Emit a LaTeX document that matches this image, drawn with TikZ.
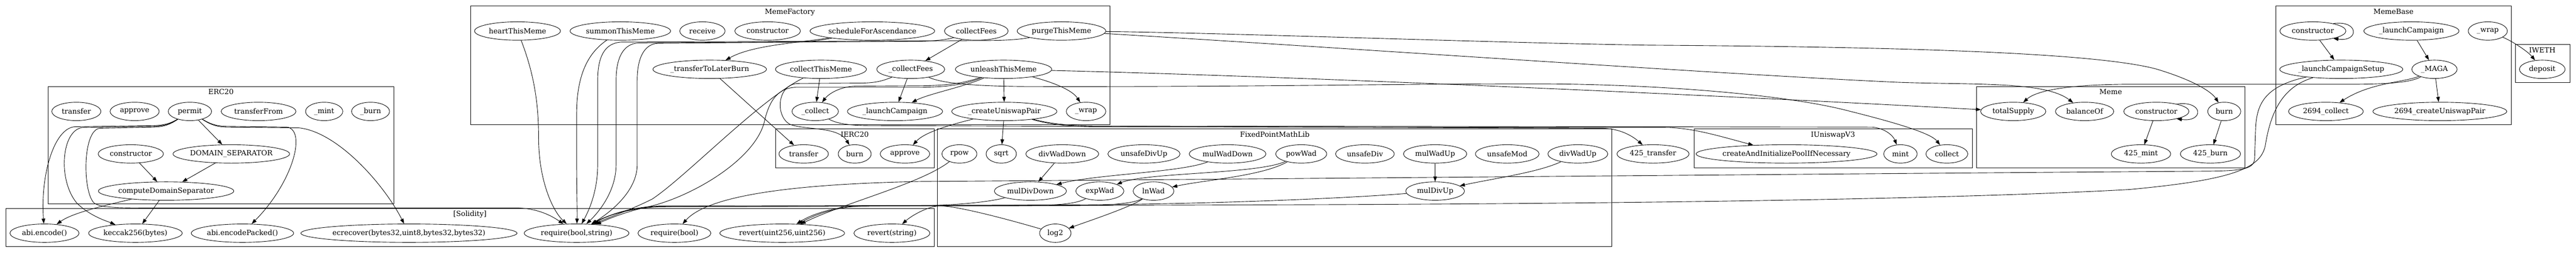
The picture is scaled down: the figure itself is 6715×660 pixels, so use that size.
\documentclass[tikz,border=0pt]{standalone}
\usepackage{fontspec}
\setmainfont{DejaVu Serif}
\usetikzlibrary{shapes.geometric,arrows.meta}
\tikzset{
  fn/.style={draw, ellipse, line width=0.9pt, inner sep=0pt, minimum height=36pt, minimum width=#1*0.75pt, font=\fontsize{14}{17}\selectfont},
  clbox/.style={draw, line width=0.9pt},
  cllab/.style={anchor=base, inner sep=0pt, font=\fontsize{14}{17}\selectfont},
  edg/.style={line width=0.9pt, -{Triangle[length=10pt,width=7pt]}},
}
\begin{document}
\begin{tikzpicture}[x=0.75pt,y=-0.75pt]
\path[use as bounding box, fill=white] (0,0) rectangle (6715,660);

% clusters
\draw[clbox] (125,226) rectangle (1027,533);
\node[cllab] (lERC) at (576,247) {ERC20};
\draw[clbox] (16,544) rectangle (2435,644);
\node[cllab] (lSol) at (1225,565) {[Solidity]};
\draw[clbox] (1227,16) rectangle (2893,326);
\node[cllab] (lMF) at (2059,37) {MemeFactory};
\draw[clbox] (2022,337) rectangle (2435,438);
\node[cllab] (lIE) at (2228,358) {IERC20};
\draw[clbox] (2444,337) rectangle (4201,644);
\node[cllab] (lFP) at (3323,358) {FixedPointMathLib};
\draw[clbox] (4416,337) rectangle (5141,438);
\node[cllab] (lUV) at (4778,358) {IUniswapV3};
\draw[clbox] (5152,226) rectangle (5852,438);
\node[cllab] (lMe) at (5502,247) {Meme};
\draw[clbox] (5933,16) rectangle (6546,326);
\node[cllab] (lMB) at (6239,37) {MemeBase};
\draw[clbox] (6557,116) rectangle (6699,216);
\node[cllab] (lIW) at (6627,137) {IWETH};

% ERC20
\node[fn=128] (etransfer) at (199,291) {transfer};
\node[fn=128] (eapprove) at (351,291) {approve};
\node[fn=113] (permit) at (495,291) {permit};
\node[fn=195] (etransferFrom) at (674,291) {transferFrom};
\node[fn=97] (emint) at (845,291) {\_mint};
\node[fn=99] (eburn) at (966,291) {\_burn};
\node[fn=170] (econs) at (341,402) {constructor};
\node[fn=304] (domsep) at (603,402) {DOMAIN\_SEPARATOR};
\node[fn=353] (cds) at (433,499) {computeDomainSeparator};
% Solidity
\node[fn=180] (abienc) at (116,609) {abi.encode()};
\node[fn=244] (keccak) at (353,609) {keccak256(bytes)};
\node[fn=267] (abipack) at (632,609) {abi.encodePacked()};
\node[fn=551] (ecrec) at (1066,609) {ecrecover(bytes32,uint8,bytes32,bytes32)};
\node[fn=273] (reqbs) at (1503,609) {require(bool,string)};
\node[fn=190] (reqb) at (1758,609) {require(bool)};
\node[fn=325] (revuu) at (2039,609) {revert(uint256,uint256)};
\node[fn=198] (revs) at (2325,609) {revert(string)};
% MemeFactory
\node[fn=224] (heart) at (1349,81) {heartThisMeme};
\node[fn=262] (summon) at (1617,81) {summonThisMeme};
\node[fn=118] (receive) at (1831,81) {receive};
\node[fn=171] (mfcons) at (2001,81) {constructor};
\node[fn=325] (sched) at (2274,81) {scheduleForAscendance};
\node[fn=166] (collectFees) at (2545,81) {collectFees};
\node[fn=231] (purge) at (2767,81) {purgeThisMeme};
\node[fn=296] (tlb) at (1850,181) {\_transferToLaterBurn};
\node[fn=237] (ctm) at (2140,181) {collectThisMeme};
\node[fn=177] (cfees) at (2374,181) {\_collectFees};
\node[fn=251] (unleash) at (2616,181) {unleashThisMeme};
\node[fn=121] (mcollect) at (2125,291) {\_collect};
\node[fn=248] (mflaunch) at (2333,291) {\_launchCampaign};
\node[fn=274] (cup) at (2618,291) {\_createUniswapPair};
\node[fn=103] (mfwrap) at (2831,291) {\_wrap};
% IERC20
\node[fn=129] (itransfer) at (2095,402) {transfer};
\node[fn=86] (iburn) at (2228,402) {burn};
\node[fn=129] (iapprove) at (2359,402) {approve};
% FixedPointMathLib
\node[fn=91] (rpow) at (2501,402) {rpow};
\node[fn=79] (sqrt) at (2610,402) {sqrt};
\node[fn=190] (divWadDown) at (2769,402) {divWadDown};
\node[fn=188] (unsafeDivUp) at (2982,402) {unsafeDivUp};
\node[fn=200] (mulWadDown) at (3200,402) {mulWadDown};
\node[fn=133] (powWad) at (3392,402) {powWad};
\node[fn=153] (unsafeDiv) at (3558,402) {unsafeDiv};
\node[fn=165] (mulWadUp) at (3741,402) {mulWadUp};
\node[fn=166] (unsafeMod) at (3929,402) {unsafeMod};
\node[fn=156] (divWadUp) at (4113,402) {divWadUp};
\node[fn=188] (mulDivDown) at (2686,499) {mulDivDown};
\node[fn=125] (expWad) at (2867,499) {expWad};
\node[fn=106] (lnWad) at (3007,499) {lnWad};
\node[fn=153] (mulDivUp) at (3741,499) {mulDivUp};
\node[fn=82] (log2) at (2751,609) {log2};
% top level
\node[fn=188] (t425) at (4309,402) {425\_transfer};
% IUniswapV3
\node[fn=461] (createPool) at (4657,402) {createAndInitializePoolIfNecessary};
\node[fn=87] (umint) at (4954,402) {mint};
\node[fn=109] (ucollect) at (5075,402) {collect};
% Meme
\node[fn=170] (totalSupply) at (5248,291) {totalSupply};
\node[fn=152] (balanceOf) at (5434,291) {balanceOf};
\node[fn=170] (mcons) at (5621,291) {constructor};
\node[fn=86] (mburn) at (5798,291) {burn};
\node[fn=155] (m425) at (5581,402) {425\_mint};
\node[fn=157] (b425) at (5762,402) {425\_burn};
% MemeBase
\node[fn=172] (mbcons) at (6029,81) {constructor};
\node[fn=248] (mblaunch) at (6286,81) {\_launchCampaign};
\node[fn=102] (mbwrap) at (6485,81) {\_wrap};
\node[fn=321] (lcs) at (6103,181) {\_launchCampaignSetup};
\node[fn=118] (maga) at (6346,181) {\_MAGA};
\node[fn=195] (c2694) at (6063,291) {2694\_collect};
\node[fn=349] (cup2694) at (6360,291) {2694\_createUniswapPair};
% IWETH
\node[fn=119] (deposit) at (6627,181) {deposit};

% ---- edges: ERC20
\draw[edg] (permit) .. controls (445,322) and (430,327) .. (400,328) -- (195,331) .. controls (140,335) and (105,460) .. (abienc);
\draw[edg] (permit) .. controls (445,323) and (430,329) .. (400,330) -- (215,333) .. controls (160,340) and (150,470) .. (200,530) .. controls (235,565) and (280,578) .. (keccak);
\draw[edg] (permit) .. controls (445,324) and (430,331) .. (400,332) -- (260,335) .. controls (215,340) and (215,500) .. (245,530) .. controls (262,542) and (300,543) .. (380,543) -- (1350,543) .. controls (1405,545) and (1440,565) .. (reqbs);
\draw[edg] (permit) -- (domsep);
\draw[edg] (permit) .. controls (545,322) and (560,329) .. (590,330) -- (750,332) .. controls (800,345) and (760,480) .. (abipack);
\draw[edg] (permit) .. controls (545,323) and (560,331) .. (590,332) -- (780,334) .. controls (880,345) and (1000,480) .. (ecrec);
\draw[edg] (econs) -- (cds);
\draw[edg] (domsep) -- (cds);
\draw[edg] (cds) .. controls (280,535) and (190,555) .. (abienc);
\draw[edg] (cds) -- (keccak);

% ---- edges: MemeFactory
\draw[edg] (heart) .. controls (1395,200) and (1404,280) .. (1404,360) .. controls (1404,470) and (1440,550) .. (reqbs);
\draw[edg] (summon) .. controls (1530,140) and (1503,200) .. (1503,300) -- (1503,420) .. controls (1503,500) and (1505,550) .. (reqbs);
\draw[edg] (purge) .. controls (2660,103) and (2620,106) .. (2560,106) -- (1620,110) .. controls (1575,112) and (1558,150) .. (1558,210) -- (1558,430) .. controls (1558,500) and (1535,550) .. (reqbs);
\draw[edg] (collectFees) .. controls (2470,103) and (2440,107) .. (2400,108) -- (1665,112) .. controls (1625,114) and (1606,150) .. (1606,210) -- (1606,430) .. controls (1606,500) and (1560,555) .. (reqbs);
\draw[edg] (sched) .. controls (2150,103) and (2120,109) .. (2080,110) -- (1715,113) .. controls (1680,115) and (1661,150) .. (1661,210) -- (1661,430) .. controls (1661,500) and (1590,555) .. (reqbs);
\draw[edg] (sched) .. controls (2080,112) and (1960,118) .. (tlb);
\draw[edg] (collectFees) -- (cfees);
\draw[edg] (purge) .. controls (3200,86) and (3900,112) .. (4300,118) .. controls (4900,122) and (5450,135) .. (5620,180) .. controls (5720,210) and (5765,240) .. (mburn);
\draw[edg] (purge) .. controls (3400,118) and (4500,195) .. (4950,215) .. controls (5150,222) and (5330,212) .. (balanceOf);
\draw[edg] (tlb) -- (itransfer);
\draw[edg] (ctm) .. controls (1980,260) and (1790,460) .. (1700,520) .. controls (1640,550) and (1580,570) .. (reqbs);
\draw[edg] (ctm) -- (mcollect);
\draw[edg] (cfees) .. controls (2300,212) and (2280,217) .. (2240,217) -- (2080,218) .. controls (2025,220) and (2020,305) .. (2060,325) .. controls (2100,340) and (2185,330) .. (iburn);
\draw[edg] (cfees) -- (mflaunch);
\draw[edg] (cfees) .. controls (2450,215) and (2520,226) .. (2700,226) .. controls (3300,227) and (3600,219) .. (4000,219) .. controls (4300,219) and (4650,245) .. (4820,290) .. controls (4960,325) and (5035,350) .. (ucollect);
\draw[edg] (unleash) .. controls (2510,218) and (2470,223) .. (2400,224) -- (2230,225) .. controls (2190,226) and (2160,245) .. (mcollect);
\draw[edg] (unleash) .. controls (2510,222) and (2470,227) .. (2400,228) -- (2075,228) .. controls (2030,229) and (2005,260) .. (1992,320) .. controls (1965,420) and (1800,515) .. (1690,540) .. controls (1630,553) and (1585,572) .. (reqbs);
\draw[edg] (unleash) .. controls (2510,228) and (2420,245) .. (mflaunch);
\draw[edg] (unleash) -- (cup);
\draw[edg] (unleash) .. controls (2745,215) and (2795,235) .. (mfwrap);
\draw[edg] (unleash) .. controls (3400,200) and (4500,250) .. (totalSupply);
\draw[edg] (mcollect) .. controls (2180,322) and (2210,328) .. (2270,328) -- (4180,335) .. controls (4225,337) and (4255,355) .. (t425);
\draw[edg] (cup) .. controls (2480,325) and (2410,345) .. (iapprove);
\draw[edg] (cup) -- (sqrt);
\draw[edg] (cup) .. controls (2725,322) and (2770,330) .. (2850,331) -- (4350,333) .. controls (4420,336) and (4480,355) .. (createPool);
\draw[edg] (cup) .. controls (2725,320) and (2770,328) .. (2850,329) -- (4880,332) .. controls (4915,335) and (4935,355) .. (umint);

% ---- edges: FixedPointMathLib
\draw[edg] (rpow) .. controls (2400,480) and (2200,530) .. (revuu);
\draw[edg] (divWadDown) -- (mulDivDown);
\draw[edg] (mulWadDown) .. controls (3080,450) and (2860,455) .. (mulDivDown);
\draw[edg] (powWad) .. controls (3280,455) and (2990,450) .. (expWad);
\draw[edg] (powWad) .. controls (3290,460) and (3140,470) .. (lnWad);
\draw[edg] (mulWadUp) -- (mulDivUp);
\draw[edg] (divWadUp) .. controls (4010,450) and (3900,465) .. (mulDivUp);
\draw[edg] (mulDivDown) .. controls (2580,527) and (2500,536) .. (2400,537) -- (2250,538) .. controls (2180,540) and (2125,560) .. (revuu);
\draw[edg] (mulDivUp) .. controls (3550,515) and (3200,533) .. (2800,535) -- (2250,537) .. controls (2175,539) and (2115,560) .. (revuu);
\draw[edg] (expWad) .. controls (2810,530) and (2770,536) .. (2700,536) -- (1720,538) .. controls (1630,541) and (1575,568) .. (reqbs);
\draw[edg] (lnWad) .. controls (2950,540) and (2830,580) .. (log2);
\draw[edg] (lnWad) .. controls (2960,530) and (2900,537) .. (2800,537) -- (1720,539) .. controls (1625,543) and (1570,570) .. (reqbs);
\draw[edg] (log2) .. controls (2600,565) and (2480,535) .. (2445,538) .. controls (2420,540) and (2380,560) .. (revs);

% ---- edges: Meme
\draw[edg] (mcons.20) .. controls (5745,262) and (5745,320) .. (mcons.-20);
\draw[edg] (mcons) -- (m425);
\draw[edg] (mburn) -- (b425);

% ---- edges: MemeBase
\draw[edg] (mbcons.20) .. controls (6150,52) and (6150,110) .. (mbcons.-20);
\draw[edg] (mbcons) -- (lcs);
\draw[edg] (mblaunch) -- (maga);
\draw[edg] (maga) .. controls (6270,215) and (6180,215) .. (c2694);
\draw[edg] (maga) -- (cup2694);
\draw[edg] (maga) .. controls (6290,212) and (6250,219) .. (6150,220) -- (5560,220) .. controls (5400,220) and (5310,235) .. (totalSupply);
\draw[edg] (mbwrap) .. controls (6550,108) and (6590,135) .. (deposit);
\draw[edg] (lcs) .. controls (5905,225) and (5884,270) .. (5880,330) -- (5877,415) .. controls (5875,440) and (5850,446) .. (5760,447) .. controls (5000,452) and (3000,470) .. (2400,474) .. controls (2100,480) and (1850,505) .. (reqb);
\draw[edg] (lcs) .. controls (5945,228) and (5918,300) .. (5905,380) .. controls (5893,440) and (5820,470) .. (5550,495) .. controls (5000,525) and (4000,533) .. (3300,535) -- (1720,540) .. controls (1620,545) and (1565,572) .. (reqbs);
\end{tikzpicture}
\end{document}
